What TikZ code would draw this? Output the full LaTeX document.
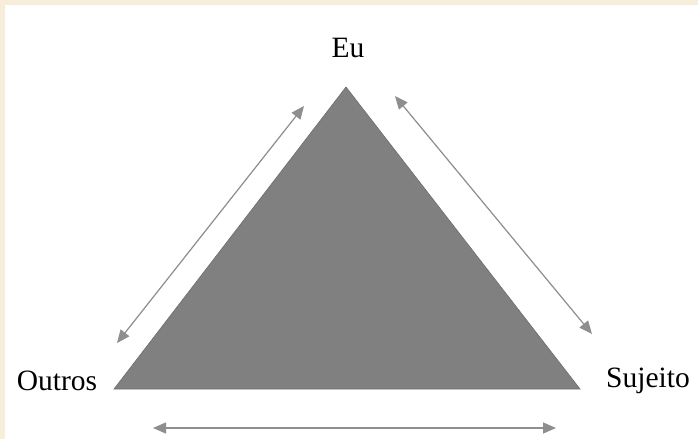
\documentclass[tikz,border=0pt]{standalone}
\usepackage{fontspec}
\setmainfont{Liberation Serif}
\usetikzlibrary{arrows.meta}
\definecolor{cream}{HTML}{F6EDDA}
\definecolor{trifill}{HTML}{808080}
\definecolor{arrowgray}{HTML}{8E8E8E}
\tikzset{
  label/.style={font=\fontsize{29.5}{33}\selectfont, inner sep=0pt, anchor=center},
  dblarrow/.style={draw=arrowgray, line width=1.2pt, {Triangle[length=13pt,width=11pt]}-{Triangle[length=13pt,width=11pt]}, fill=arrowgray},
  tri/.style={fill=trifill, draw=trifill!85!black, line width=0.6pt}
}
\begin{document}
\begin{tikzpicture}[x=1pt,y=-1pt]
\useasboundingbox (0,0) rectangle (698,439);
\fill[cream] (0,0) rectangle (698,439);
\fill[white] (5,5) rectangle (698,439);
% triangle
\coordinate (apex) at (346,87);
\coordinate (bl) at (114,389);
\coordinate (br) at (580,389);
\path[tri] (apex) -- (bl) -- (br) -- cycle;
% labels
\node[label] (eu) at (348,48) {Eu};
\node[label] (outros) at (57,381) {Outros};
\node[label] (sujeito) at (648,381) {Sujeito};
% arrows
\coordinate (l1) at (304,106);
\coordinate (l2) at (117,343);
\coordinate (r1) at (395,96);
\coordinate (r2) at (592,334);
\coordinate (b1) at (153,428);
\coordinate (b2) at (556,428);
\draw[dblarrow] (l1) -- (l2);
\draw[dblarrow] (r1) -- (r2);
\draw[dblarrow] (b1) -- (b2);
\end{tikzpicture}
\end{document}
